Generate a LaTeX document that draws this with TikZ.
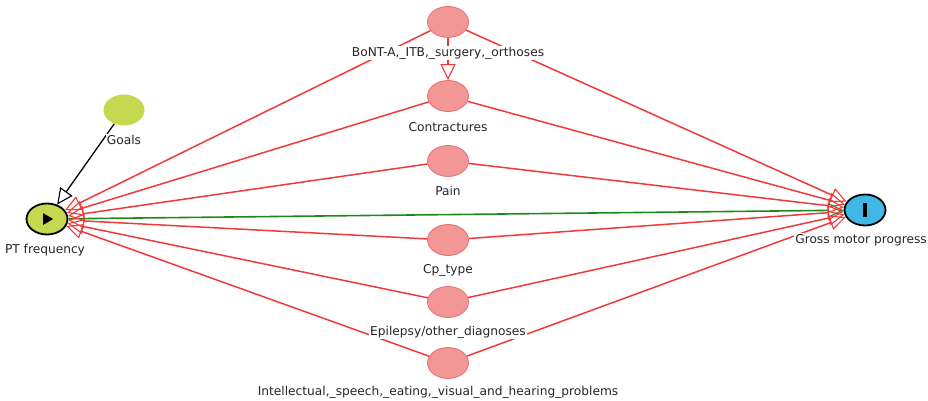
\documentclass[tikz,border=0pt]{standalone}
\usepackage{fontspec}
\setmainfont{DejaVu Sans}
\usetikzlibrary{shapes.geometric,arrows.meta,calc}
\definecolor{rnode}{HTML}{F29696}
\definecolor{rborder}{HTML}{E87070}
\definecolor{redge}{HTML}{F03A3A}
\definecolor{gnode}{HTML}{C4D850}
\definecolor{bnode}{HTML}{40B8E6}
\definecolor{gedge}{HTML}{1E8A1E}
\tikzset{
  base/.style={ellipse, minimum width=41pt, minimum height=31pt, inner sep=0pt},
  rn/.style={base, fill=rnode, draw=rborder, line width=0.8pt},
  gn/.style={base, fill=gnode},
  expo/.style={base, fill=gnode, draw=black, line width=1.8pt},
  outc/.style={base, fill=bnode, draw=black, line width=1.8pt},
  lbl/.style={fill=white, inner sep=1pt, font=\fontsize{12.2pt}{14pt}\selectfont, text=black!85},
  tip/.style={-{Triangle[open,length=16pt,width=15pt,line width=1.1pt]}},
  re/.style={tip, draw=redge, line width=1.5pt},
  ge/.style={tip, draw=gedge, line width=1.6pt},
  be/.style={tip, draw=black, line width=1.3pt},
}
\begin{document}
\begin{tikzpicture}[x=1pt,y=-1pt]
\useasboundingbox (0,0) rectangle (928,401);
% nodes
\node[rn] (bont) at (448,22) {};
\node[rn] (contr) at (448,96) {};
\node[rn] (pain) at (448,161) {};
\node[rn] (cp) at (448,240) {};
\node[rn] (epi) at (448,302) {};
\node[rn] (intel) at (448,363) {};
\node[gn] (goals) at (124,110) {};
\node[expo] (pt) at (47,219) {};
\node[outc] (gm) at (865,210) {};
\fill[black] ($(pt)+(-4,-6)$) -- ($(pt)+(6,0)$) -- ($(pt)+(-4,6)$) -- cycle;
\fill[black] (863,203) rectangle (867,217);
% edges
\draw[ge] (pt) -- (gm);
\foreach \n in {bont,contr,pain,cp,epi,intel}{
  \draw[re] (\n) -- (pt);
  \draw[re] (\n) -- (gm);
}
\draw[re] (bont) -- (contr);
\draw[be] (goals) -- (pt);
% labels
\node[lbl] (bontl) at (448,53) {BoNT-A,\_ITB,\_surgery,\_orthoses};
\node[lbl] (contrl) at (448,127) {Contractures};
\node[lbl] (painl) at (448,191) {Pain};
\node[lbl] (cpl) at (448,270) {Cp\_type};
\node[lbl] (epil) at (448,332) {Epilepsy/other\_diagnoses};
\node[lbl] (intell) at (438,392) {Intellectual,\_speech,\_eating,\_visual\_and\_hearing\_problems};
\node[lbl] (goalsl) at (124,140) {Goals};
\node[lbl] (ptl) at (45,250) {PT frequency};
\node[lbl] (gml) at (861,240) {Gross motor progress};
\end{tikzpicture}
\end{document}
